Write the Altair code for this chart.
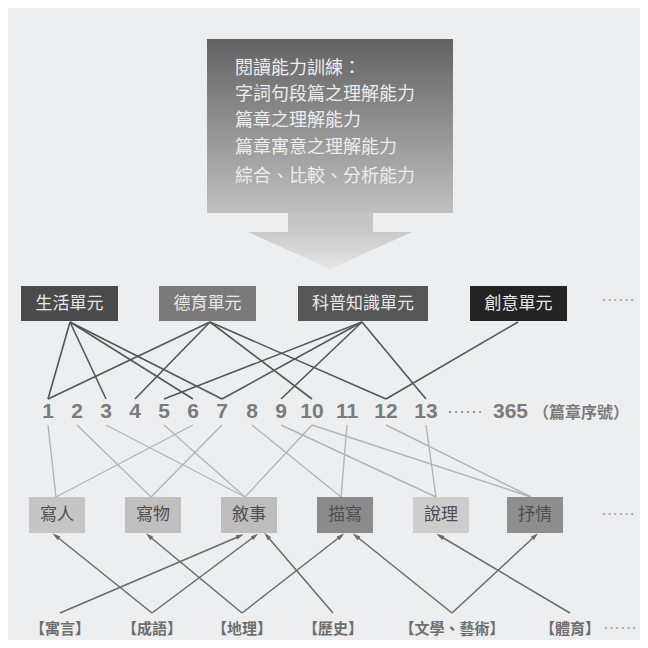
import math
import altair as alt
import pandas as pd

# ---------------- content ----------------
skill_lines = ["閱讀能力訓練：", "字詞句段篇之理解能力", "篇章之理解能力", "篇章寓意之理解能力", "綜合、比較、分析能力"]
unit_names = ["生活單元", "德育單元", "科普知識單元", "創意單元"]
number_labels = ["1", "2", "3", "4", "5", "6", "7", "8", "9", "10", "11", "12", "13"]
last_number = "365"
number_note = "（篇章序號）"
genre_names = ["寫人", "寫物", "敘事", "描寫", "說理", "抒情"]
theme_names = ["【寓言】", "【成語】", "【地理】", "【歷史】", "【文學、藝術】", "【體育】"]
ellipsis = "······"

unit_links = [("生活單元", "1"), ("生活單元", "3"), ("生活單元", "6"), ("生活單元", "7"),
              ("德育單元", "1"), ("德育單元", "4"), ("德育單元", "10"), ("德育單元", "12"),
              ("科普知識單元", "5"), ("科普知識單元", "7"), ("科普知識單元", "9"), ("科普知識單元", "13"),
              ("創意單元", "12")]
genre_links = [("1", "寫人"), ("2", "寫物"), ("3", "敘事"), ("5", "敘事"), ("6", "寫人"), ("7", "寫物"),
               ("8", "描寫"), ("9", "說理"), ("10", "敘事"), ("10", "抒情"), ("11", "描寫"),
               ("12", "抒情"), ("13", "說理")]
theme_links = [("【寓言】", "敘事"), ("【成語】", "寫人"), ("【成語】", "敘事"), ("【地理】", "寫物"),
               ("【地理】", "描寫"), ("【歷史】", "敘事"), ("【文學、藝術】", "描寫"),
               ("【文學、藝術】", "抒情"), ("【體育】", "說理")]

# ---------------- layout (page pixels) ----------------
unit_left = [21, 159, 298, 470]
unit_right = [118, 256, 428, 567]
unit_anchor = [70, 210, 362, 518]
unit_top, unit_bottom = 286, 321
unit_fill = ["#4a4a4a", "#7a7a7a", "#565656", "#232323"]

number_x = [48, 77, 106, 135, 164, 193, 222, 252, 281, 312, 347, 386, 426]
number_y = 412
number_top, number_bottom = 399, 425

genre_left = [29, 125, 221, 317, 413, 507]
genre_w = 56
genre_top, genre_bottom = 497, 533
genre_anchor = [56, 151, 245, 341, 436, 531]
genre_fill = ["#c5c5c5", "#c0c0c0", "#bdbdbd", "#8b8b8b", "#cdcdcd", "#8e8e8e"]

theme_x = [60, 152, 242, 333, 452, 570]
theme_y = 629
theme_start_y = 613
theme_end_x = [240, 56, 255, 149, 341, 267, 356, 535, 440]

XS = alt.Scale(domain=[8, 640])
YS = alt.Scale(domain=[8, 640], reverse=True)
FONT = "Noto Sans CJK TC"


def X(f="x"):
    return alt.X(f"{f}:Q", scale=XS, axis=None)


def Y(f="y"):
    return alt.Y(f"{f}:Q", scale=YS, axis=None)


# ---------------- top box + arrow ----------------
box_df = pd.DataFrame({"x": [207], "x2": [453], "y": [39], "y2": [213]})
box = alt.Chart(box_df).mark_rect(
    color=alt.Gradient(gradient="linear", x1=0, x2=0, y1=0, y2=1,
                       stops=[alt.GradientStop(offset=0, color="#626262"),
                              alt.GradientStop(offset=1, color="#c0c0c0")])
).encode(x=X(), x2="x2:Q", y=Y(), y2="y2:Q")

shaft_df = pd.DataFrame({"x": [288], "x2": [373], "y": [213], "y2": [233]})
shaft = alt.Chart(shaft_df).mark_rect(
    color=alt.Gradient(gradient="linear", x1=0, x2=0, y1=0, y2=1,
                       stops=[alt.GradientStop(offset=0, color="#c3c3c3"),
                              alt.GradientStop(offset=1, color="#cbcbcb")])
).encode(x=X(), x2="x2:Q", y=Y(), y2="y2:Q")

head_df = pd.DataFrame({"x": [248, 330, 412], "y": [232, 232, 232], "y2": [232, 269, 232]})
head = alt.Chart(head_df).mark_area(
    color=alt.Gradient(gradient="linear", x1=0, x2=0, y1=0, y2=1,
                       stops=[alt.GradientStop(offset=0, color="#c9c9c9"),
                              alt.GradientStop(offset=1, color="#e6e6e6")])
).encode(x=X(), y=Y(), y2="y2:Q")

skill_df = pd.DataFrame({"t": skill_lines, "x": [235] * 5, "y": [69, 95, 121, 148, 177]})
skill_text = alt.Chart(skill_df).mark_text(
    align="left", baseline="middle", font=FONT, fontSize=18, color="#ededed"
).encode(x=X(), y=Y(), text="t:N")

# ---------------- units ----------------
unit_df = pd.DataFrame({"name": unit_names, "x": unit_left, "x2": unit_right,
                        "y": [unit_top] * 4, "y2": [unit_bottom] * 4, "fill": unit_fill,
                        "cx": [(a + b) / 2 for a, b in zip(unit_left, unit_right)],
                        "cy": [(unit_top + unit_bottom) / 2] * 4})
unit_rect = alt.Chart(unit_df).mark_rect().encode(
    x=X(), x2="x2:Q", y=Y(), y2="y2:Q", color=alt.Color("fill:N", scale=None))
unit_text = alt.Chart(unit_df).mark_text(
    font=FONT, fontSize=17, color="#e8e8e8", baseline="middle"
).encode(x=X("cx"), y=Y("cy"), text="name:N")

# ---------------- numbers ----------------
num_df = pd.DataFrame({"t": number_labels, "x": number_x, "y": [number_y] * len(number_x)})
num_text = alt.Chart(num_df).mark_text(
    font="Liberation Sans", fontSize=21, fontWeight="bold", color="#7b7b7b", baseline="middle"
).encode(x=X(), y=Y(), text="t:N")

extra_df = pd.DataFrame({"t": [ellipsis, last_number, number_note],
                         "x": [447, 493, 533], "y": [number_y, number_y, number_y + 1]})
extra_dots = alt.Chart(extra_df.iloc[[0]]).mark_text(
    font="Liberation Sans", fontSize=18, color="#8a8a8a", align="left", baseline="middle"
).encode(x=X(), y=Y(), text="t:N")
extra_365 = alt.Chart(extra_df.iloc[[1]]).mark_text(
    font="Liberation Sans", fontSize=21, fontWeight="bold", color="#7b7b7b", align="left", baseline="middle"
).encode(x=X(), y=Y(), text="t:N")
extra_note = alt.Chart(extra_df.iloc[[2]]).mark_text(
    font=FONT, fontSize=16, fontWeight="bold", color="#7b7b7b", align="left", baseline="middle"
).encode(x=X(), y=Y(), text="t:N")

# ---------------- genres ----------------
genre_df = pd.DataFrame({"name": genre_names, "x": genre_left,
                         "x2": [g + genre_w for g in genre_left],
                         "y": [genre_top] * 6, "y2": [genre_bottom] * 6, "fill": genre_fill,
                         "cx": [g + genre_w / 2 for g in genre_left],
                         "cy": [(genre_top + genre_bottom) / 2] * 6})
genre_rect = alt.Chart(genre_df).mark_rect().encode(
    x=X(), x2="x2:Q", y=Y(), y2="y2:Q", color=alt.Color("fill:N", scale=None))
genre_text = alt.Chart(genre_df).mark_text(
    font=FONT, fontSize=17, color="#4e4e4e", baseline="middle"
).encode(x=X("cx"), y=Y("cy"), text="name:N")

# ---------------- themes ----------------
theme_df = pd.DataFrame({"t": theme_names, "x": theme_x, "y": [theme_y] * 6})
theme_text = alt.Chart(theme_df).mark_text(
    font=FONT, fontSize=15, fontWeight="bold", color="#6e6e6e", baseline="middle"
).encode(x=X(), y=Y(), text="t:N")

dots_df = pd.DataFrame({"t": [ellipsis] * 3, "x": [601, 601, 603], "y": [300, 514, 628]})
dots = alt.Chart(dots_df).mark_text(
    font="Liberation Sans", fontSize=17, color="#9a9a9a", align="left", baseline="middle"
).encode(x=X(), y=Y(), text="t:N")

# ---------------- links ----------------
u_idx = {n: i for i, n in enumerate(unit_names)}
n_idx = {n: i for i, n in enumerate(number_labels)}
g_idx = {n: i for i, n in enumerate(genre_names)}
t_idx = {n: i for i, n in enumerate(theme_names)}

ul = pd.DataFrame({
    "x": [unit_anchor[u_idx[a]] for a, b in unit_links],
    "y": [unit_bottom + 1] * len(unit_links),
    "x2": [number_x[n_idx[b]] for a, b in unit_links],
    "y2": [number_top] * len(unit_links)})
unit_lines = alt.Chart(ul).mark_rule(color="#555555", strokeWidth=1.6).encode(
    x=X(), y=Y(), x2="x2:Q", y2="y2:Q")

gl = pd.DataFrame({
    "x": [number_x[n_idx[a]] for a, b in genre_links],
    "y": [number_bottom] * len(genre_links),
    "x2": [genre_anchor[g_idx[b]] for a, b in genre_links],
    "y2": [genre_top] * len(genre_links)})
genre_lines = alt.Chart(gl).mark_rule(color="#b4b4b4", strokeWidth=1.4).encode(
    x=X(), y=Y(), x2="x2:Q", y2="y2:Q")

tx0 = [theme_x[t_idx[a]] for a, b in theme_links]
ty0 = [theme_start_y] * len(theme_links)
tx1 = theme_end_x
ty1 = [genre_bottom + 3] * len(theme_links)
angles = []
for a0, b0, a1, b1 in zip(tx0, ty0, tx1, ty1):
    dx, dy = a1 - a0, b1 - b0
    angles.append(math.degrees(math.atan2(dx, -dy)) % 360)
tl = pd.DataFrame({"x": tx0, "y": ty0, "x2": tx1, "y2": ty1, "ang": angles})
theme_lines = alt.Chart(tl).mark_rule(color="#6a6a6a", strokeWidth=1.5).encode(
    x=X(), y=Y(), x2="x2:Q", y2="y2:Q")
arrow_heads = alt.Chart(tl).mark_point(
    shape="M0,-1L0.55,0.9L-0.55,0.9Z", filled=True, color="#6a6a6a", size=70, opacity=1
).encode(x=X("x2"), y=Y("y2"), angle=alt.Angle("ang:Q", scale=None))

chart = alt.layer(
    box, shaft, head, skill_text,
    unit_lines, genre_lines, theme_lines, arrow_heads,
    unit_rect, unit_text,
    num_text, extra_dots, extra_365, extra_note,
    genre_rect, genre_text,
    theme_text, dots,
).properties(
    width=632, height=632, padding=0, background="#edeef0"
).configure_view(stroke=None)

chart.save("out.html", embed_options={"renderer": "svg", "actions": False})
